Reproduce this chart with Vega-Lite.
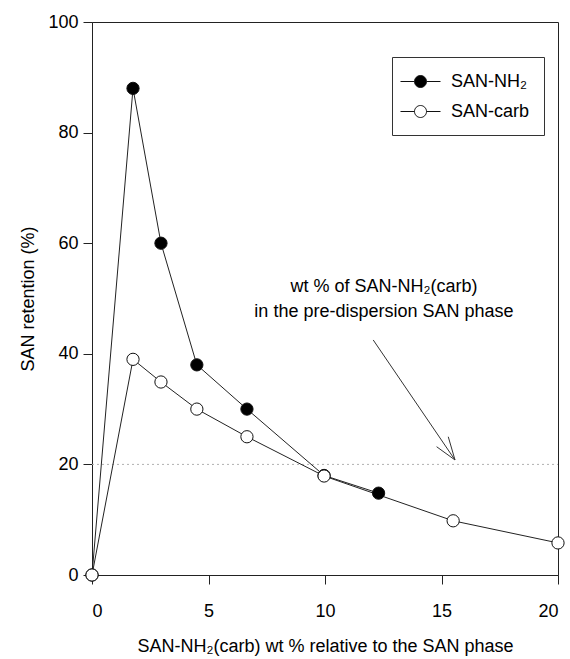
{
  "$schema": "https://vega.github.io/schema/vega-lite/v6.json",
  "width": 466,
  "height": 553,
  "autosize": "none",
  "padding": {"left": 92, "top": 22, "right": 12, "bottom": 84},
  "background": "white",
  "config": {
    "font": "Liberation Sans",
    "view": {"stroke": "#222", "strokeWidth": 1},
    "axis": {
      "grid": false,
      "domainColor": "#222",
      "tickColor": "#222",
      "labelColor": "#000",
      "titleColor": "#000",
      "labelFontSize": 18,
      "titleFontSize": 18,
      "titleFontWeight": "normal",
      "tickSize": 9
    }
  },
  "datasets": {
    "series": [
      {"series": "SAN-NH₂", "x": 0, "y": 0},
      {"series": "SAN-NH₂", "x": 1.76, "y": 88},
      {"series": "SAN-NH₂", "x": 2.96, "y": 60},
      {"series": "SAN-NH₂", "x": 4.5, "y": 38},
      {"series": "SAN-NH₂", "x": 6.65, "y": 30},
      {"series": "SAN-NH₂", "x": 9.96, "y": 18},
      {"series": "SAN-NH₂", "x": 12.3, "y": 14.8},
      {"series": "SAN-carb", "x": 0, "y": 0},
      {"series": "SAN-carb", "x": 1.76, "y": 39},
      {"series": "SAN-carb", "x": 2.96, "y": 34.9},
      {"series": "SAN-carb", "x": 4.5, "y": 30},
      {"series": "SAN-carb", "x": 6.65, "y": 25},
      {"series": "SAN-carb", "x": 9.96, "y": 17.9},
      {"series": "SAN-carb", "x": 15.5, "y": 9.8},
      {"series": "SAN-carb", "x": 20, "y": 5.8}
    ],
    "notes": [
      {"text": "wt % of SAN-NH₂(carb)", "x": 12.53, "y": 52.1},
      {"text": "in the pre-dispersion SAN phase", "x": 12.53, "y": 47.6}
    ],
    "arrow": [
      {"x": 12.07, "y": 42.5, "x2": 15.58, "y2": 20.8},
      {"x": 15.58, "y": 20.8, "x2": 14.79, "y2": 23.2},
      {"x": 15.58, "y": 20.8, "x2": 15.29, "y2": 25.0}
    ],
    "ref": [
      {"x": 0, "x2": 20, "y": 20}
    ]
  },
  "layer": [
    {
      "data": {"name": "ref"},
      "mark": {"type": "rule", "color": "#b0b0b0", "strokeDash": [2, 3], "strokeWidth": 1},
      "encoding": {
        "x": {"field": "x", "type": "quantitative", "scale": {"domain": [0, 20], "nice": false}, "title": "SAN-NH₂(carb) wt % relative to the SAN phase"},
        "x2": {"field": "x2"},
        "y": {"field": "y", "type": "quantitative", "scale": {"domain": [0, 100], "nice": false}, "title": "SAN retention (%)"}
      }
    },
    {
      "data": {"name": "series"},
      "mark": {"type": "line", "color": "#222", "strokeWidth": 1, "clip": false},
      "encoding": {
        "x": {
          "field": "x", "type": "quantitative",
          "scale": {"domain": [0, 20], "nice": false},
          "title": "SAN-NH₂(carb) wt % relative to the SAN phase",
          "axis": {"values": [0, 5, 10, 15, 20], "labelPadding": 18, "titlePadding": 17}
        },
        "y": {
          "field": "y", "type": "quantitative",
          "scale": {"domain": [0, 100], "nice": false},
          "title": "SAN retention (%)",
          "axis": {"values": [0, 20, 40, 60, 80, 100], "labelPadding": 5, "titlePadding": 10}
        },
        "detail": {"field": "series", "type": "nominal"}
      }
    },
    {
      "data": {"name": "series"},
      "mark": {"type": "point", "shape": "circle", "size": 150, "stroke": "#111", "strokeWidth": 1, "opacity": 1, "fillOpacity": 1, "clip": false},
      "encoding": {
        "x": {"field": "x", "type": "quantitative", "title": "SAN-NH₂(carb) wt % relative to the SAN phase"},
        "y": {"field": "y", "type": "quantitative", "title": "SAN retention (%)"},
        "fill": {
          "field": "series", "type": "nominal",
          "scale": {"domain": ["SAN-NH₂", "SAN-carb"], "range": ["#000000", "#ffffff"]},
          "legend": {
            "title": null,
            "orient": "none",
            "legendX": 300,
            "legendY": 35,
            "padding": 14,
            "strokeColor": "#333",
            "fillColor": "white",
            "symbolType": "M-1.6,0H-0.2M1.0,0H2.4M-0.2,0A0.6,0.6 0 1,1 1.0,0A0.6,0.6 0 1,1 -0.2,0Z",
            "symbolSize": 400,
            "symbolStrokeColor": "#111",
            "symbolStrokeWidth": 1,
            "symbolOpacity": 1,
            "labelFontSize": 18,
            "labelColor": "#000",
            "labelOffset": 24,
            "rowPadding": 10
          }
        }
      }
    },
    {
      "data": {"name": "notes"},
      "mark": {"type": "text", "fontSize": 18, "align": "center", "baseline": "middle", "color": "#000"},
      "encoding": {
        "x": {"field": "x", "type": "quantitative", "title": "SAN-NH₂(carb) wt % relative to the SAN phase"},
        "y": {"field": "y", "type": "quantitative", "title": "SAN retention (%)"},
        "text": {"field": "text"}
      }
    },
    {
      "data": {"name": "arrow"},
      "mark": {"type": "rule", "color": "#333", "strokeWidth": 1},
      "encoding": {
        "x": {"field": "x", "type": "quantitative", "title": "SAN-NH₂(carb) wt % relative to the SAN phase"},
        "y": {"field": "y", "type": "quantitative", "title": "SAN retention (%)"},
        "x2": {"field": "x2"},
        "y2": {"field": "y2"}
      }
    }
  ]
}
